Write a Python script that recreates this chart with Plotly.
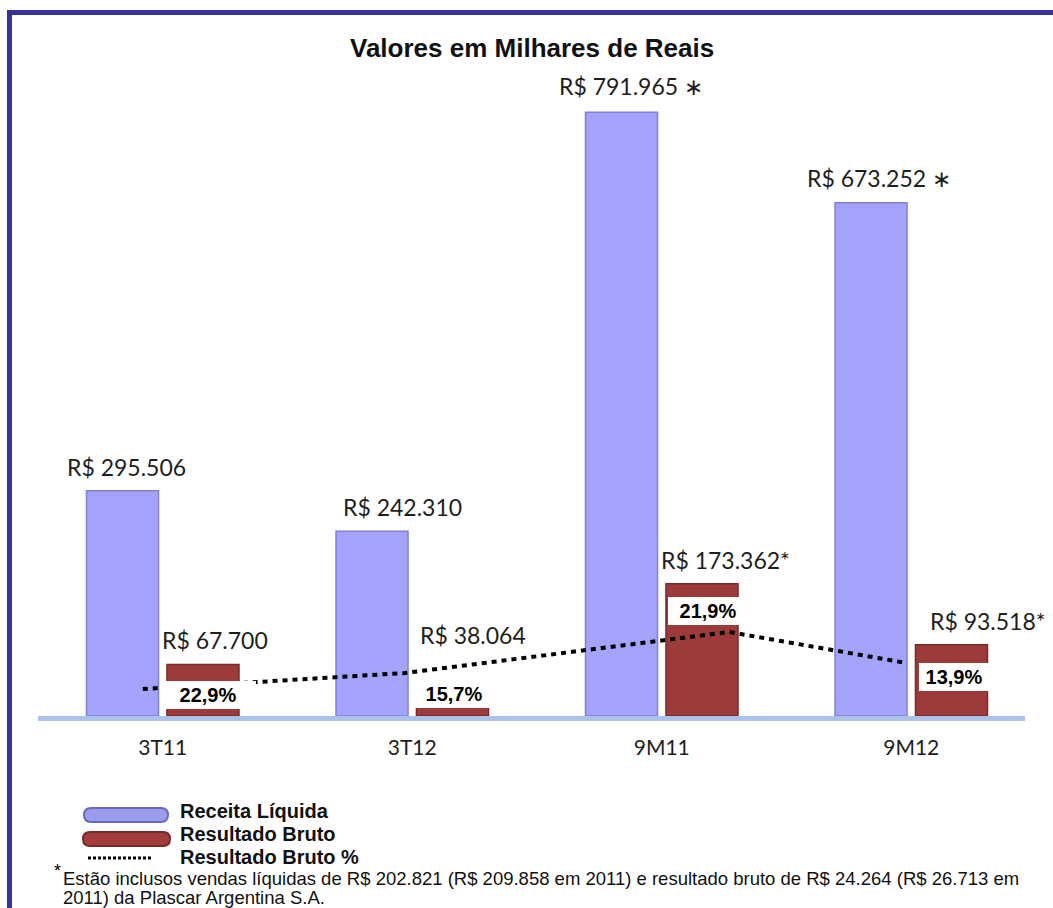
import plotly.graph_objects as go

# ---------------- data ----------------
categories = ["3T11", "3T12", "9M11", "9M12"]
receita_liquida = [295506, 242310, 791965, 673252]
resultado_bruto = [67700, 38064, 173362, 93518]
receita_labels = ["R$ 295.506", "R$ 242.310", "R$ 791.965 \u2217", "R$ 673.252 \u2217"]
bruto_labels = ["R$ 67.700", "R$ 38.064", "R$ 173.362*", "R$ 93.518*"]
bruto_pct_labels = ["22,9%", "15,7%", "21,9%", "13,9%"]
# dotted "Resultado Bruto %" line (category position, value on the main scale)
pct_line_x = [-0.08, 0.97, 2.27, 2.98]
pct_line_y = [35400, 56400, 110200, 69600]

title_text = "Valores em Milhares de Reais"
footnote_1 = "Estão inclusos vendas líquidas de R$ 202.821 (R$ 209.858 em 2011) e resultado bruto de R$ 24.264 (R$ 26.713 em"
footnote_2 = "2011) da Plascar Argentina S.A."
legend_names = ["Receita Líquida", "Resultado Bruto", "Resultado Bruto %"]

# ---------------- layout geometry ----------------
W, H = 1053, 908
ML, MR, MT, MB = 38, 28, 68, 192
PW, PH = W - ML - MR, H - MT - MB
UNIT = 249.5  # px per category
XR = [-0.5, -0.5 + PW / UNIT]


def px(x):
    return (x - ML) / PW


def py(y):
    return (H - MB - y) / PH


BLUE = "#A3A3FC"
BLUE_LINE = "#8080D4"
RED = "#9D3A3A"
RED_LINE = "#7A2A2A"
CAL = "Lato, Carlito, sans-serif"
ARIAL = "Liberation Sans, Arial, sans-serif"

idx = list(range(len(categories)))

fig = go.Figure()
fig.add_bar(x=idx, y=receita_liquida, name=legend_names[0],
            marker=dict(color=BLUE, line=dict(color=BLUE_LINE, width=1.5)), hoverinfo="skip")
fig.add_bar(x=idx, y=resultado_bruto, name=legend_names[1],
            marker=dict(color=RED, line=dict(color=RED_LINE, width=1.5)), hoverinfo="skip")
fig.add_scatter(x=pct_line_x, y=pct_line_y, mode="lines", name=legend_names[2],
                line=dict(color="black", width=4, dash="5px,5px"), hoverinfo="skip")

OFF = 0.161  # half distance between the grouped bar centres
ann = []
blue_xshift = [4, 30, 9, 8]
blue_yshift = [24, 24, 26, 25]
for i, (v, t) in enumerate(zip(receita_liquida, receita_labels)):
    ann.append(dict(x=i - OFF, y=v, xref="x", yref="y", text=t, showarrow=False,
                    xanchor="center", yanchor="middle", xshift=blue_xshift[i], yshift=blue_yshift[i],
                    font=dict(family=CAL, size=23, color="#1e1e1e")))
red_xshift = [12, 21, 24, 37]
red_yshift = [24, 52, 24, 24]
for i, (v, t) in enumerate(zip(resultado_bruto, bruto_labels)):
    ann.append(dict(x=i + OFF, y=v, xref="x", yref="y", text=t, showarrow=False,
                    xanchor="center", yanchor="middle", xshift=red_xshift[i], yshift=red_yshift[i],
                    font=dict(family=CAL, size=23, color="#1e1e1e")))
pct_xshift = [5, 2, 6, 3]
pct_yshift = [21, 22, 105, 39]
pct_w = [96, 80, 80, 70]
for i, t in enumerate(bruto_pct_labels):
    ann.append(dict(x=i + OFF, y=0, xref="x", yref="y", text="<b>%s</b>" % t, showarrow=False,
                    xanchor="center", yanchor="middle", xshift=pct_xshift[i], yshift=pct_yshift[i],
                    width=pct_w[i], height=28, bgcolor="white", borderpad=0, borderwidth=0,
                    font=dict(family=ARIAL, size=20, color="black")))

# title
ann.append(dict(x=px(532), y=py(48), xref="paper", yref="paper", text="<b>%s</b>" % title_text,
                showarrow=False, xanchor="center", yanchor="middle",
                font=dict(family=ARIAL, size=26, color="#111111")))

# legend texts
for name, yc in zip(legend_names, [811, 834, 857]):
    ann.append(dict(x=px(178), y=py(yc), xref="paper", yref="paper", text="<b>%s</b>" % name,
                    showarrow=False, xanchor="left", yanchor="middle",
                    font=dict(family=ARIAL, size=20, color="#111111")))

# footnote
ann.append(dict(x=px(52), y=py(871), xref="paper", yref="paper", text="*", showarrow=False,
                xanchor="left", yanchor="middle", font=dict(family=ARIAL, size=18, color="black")))
ann.append(dict(x=px(61), y=py(878), xref="paper", yref="paper", text=footnote_1, showarrow=False,
                xanchor="left", yanchor="middle", font=dict(family=ARIAL, size=18.5, color="#111111")))
ann.append(dict(x=px(61), y=py(897), xref="paper", yref="paper", text=footnote_2, showarrow=False,
                xanchor="left", yanchor="middle", font=dict(family=ARIAL, size=18.5, color="#111111")))


def rounded_bar(x0, x1, y0, y1):
    r = (y1 - y0) / 2.0
    ym = (y0 + y1) / 2.0
    pts = [("M", [(x0 + r, y0)]), ("L", [(x1 - r, y0)]), ("Q", [(x1, y0), (x1, ym)]),
           ("Q", [(x1, y1), (x1 - r, y1)]), ("L", [(x0 + r, y1)]), ("Q", [(x0, y1), (x0, ym)]),
           ("Q", [(x0, y0), (x0 + r, y0)])]
    s = ""
    for cmd, ps in pts:
        s += cmd + " " + " ".join("%.5f,%.5f" % (px(a), py(b)) for a, b in ps) + " "
    return s + "Z"


shapes = [
    # navy frame
    dict(type="rect", xref="paper", yref="paper", x0=px(7), x1=px(12), y0=py(10), y1=py(H + 5),
         fillcolor="#333399", line=dict(width=0), layer="above"),
    dict(type="rect", xref="paper", yref="paper", x0=px(7), x1=px(W + 5), y0=py(10), y1=py(15),
         fillcolor="#333399", line=dict(width=0), layer="above"),
    # legend symbols
    dict(type="path", xref="paper", yref="paper", path=rounded_bar(84, 168, 808, 822),
         fillcolor="#9C9CEE", line=dict(color="#6A6AB8", width=2)),
    dict(type="path", xref="paper", yref="paper", path=rounded_bar(83, 170, 832, 846),
         fillcolor="#A33C3C", line=dict(color="#7A2828", width=2)),
    dict(type="line", xref="paper", yref="paper", x0=px(88), x1=px(152), y0=py(858), y1=py(858),
         line=dict(color="black", width=3, dash="3px,2px")),
]

fig.update_layout(
    width=W, height=H,
    margin=dict(l=ML, r=MR, t=MT, b=MB),
    paper_bgcolor="white", plot_bgcolor="white",
    barmode="group", bargap=0.355, bargroupgap=0.105,
    showlegend=False,
    xaxis=dict(range=XR, tickvals=idx, ticktext=categories, showgrid=False, zeroline=False,
               showline=True, linecolor="#A9C3EA", linewidth=5, ticks="", ticklabelstandoff=9,
               tickfont=dict(family=CAL, size=21, color="#1e1e1e"), fixedrange=True),
    yaxis=dict(range=[0, 850000], visible=False, fixedrange=True),
    annotations=ann,
    shapes=shapes,
)

fig.write_html("out.html", config={"displayModeBar": False},
               post_script="document.body.style.margin='0';document.body.style.overflow='hidden';")
